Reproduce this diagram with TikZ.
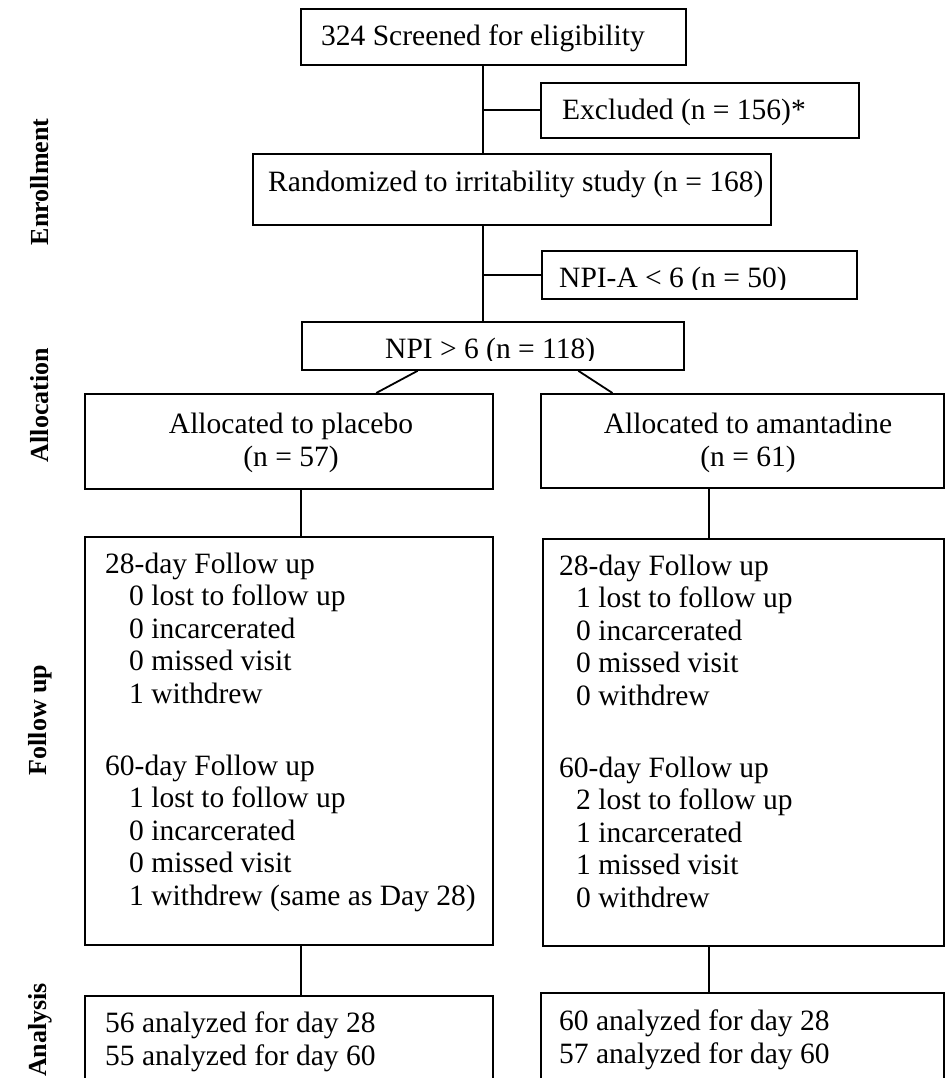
\documentclass[tikz,border=0pt]{standalone}
\usepackage{fontspec}
\setmainfont{Liberation Serif}
\usetikzlibrary{calc}
\tikzset{
  box/.style={draw, line width=1.8pt, rectangle, inner sep=0pt, anchor=north west},
  txt/.style={inner sep=0pt, anchor=base west, font=\fontsize{29.5}{33}\selectfont},
  ctxt/.style={inner sep=0pt, anchor=base, font=\fontsize{29.5}{33}\selectfont},
  phase/.style={inner sep=0pt, anchor=center, rotate=90, font=\fontsize{26}{30}\selectfont\bfseries},
  conn/.style={line width=1.8pt},
}
\begin{document}
\begin{tikzpicture}[x=1pt, y=-1pt]
\useasboundingbox (0,0) rectangle (945,1078);
\clip (0,0) rectangle (945,1078);
\fill[white] (0,0) rectangle (945,1078);

% phase labels
\node[phase] (lenr) at (40,182) {Enrollment};
\node[phase] (lall) at (40,405) {Allocation};
\node[phase] (lfol) at (40,720) {Follow up};
\node[phase] (lana) at (40,1030) {Analysis};

% boxes
\node[box, minimum width=385pt, minimum height=56pt] (screen) at (300,8) {};
\node[box, minimum width=318pt, minimum height=55pt] (excl) at (540,82) {};
\node[box, minimum width=518pt, minimum height=71pt] (rand) at (252,153) {};
\node[box, minimum width=315pt, minimum height=48pt] (npia) at (541,250) {};
\node[box, minimum width=382pt, minimum height=48pt] (npi6) at (301,321) {};
\node[box, minimum width=408pt, minimum height=95pt] (palloc) at (84,393) {};
\node[box, minimum width=403pt, minimum height=94pt] (aalloc) at (540,393) {};
\node[box, minimum width=408pt, minimum height=408pt] (pfu) at (84,536) {};
\node[box, minimum width=401pt, minimum height=407pt] (afu) at (542,538) {};
\node[box, minimum width=408pt, minimum height=120pt] (pan) at (84,995) {};
\node[box, minimum width=403pt, minimum height=120pt] (aan) at (540,992) {};

% texts
\node[txt] (tscreen) at (321,46) {324 Screened for eligibility};
\node[txt] (texcl) at (562,120) {Excluded (n = 156)*};
\node[txt] (trand) at (268,192) {Randomized to irritability study (n = 168)};
\begin{scope}
\clip (541,250) rectangle (856,289);
\node[txt] (tnpia) at (559,287) {NPI-A < 6 (n = 50)};
\end{scope}
\begin{scope}
\clip (301,321) rectangle (683,360);
\node[txt] (tnpi6) at (385,358) {NPI > 6 (n = 118)};
\end{scope}
\node[ctxt] (tpa1) at (291,433) {Allocated to placebo};
\node[ctxt] (tpa2) at (291,466) {(n = 57)};
\node[ctxt] (taa1) at (748,433) {Allocated to amantadine};
\node[ctxt] (taa2) at (748,466) {(n = 61)};

% placebo follow up
\node[txt] (pf1) at (105,573) {28-day Follow up};
\node[txt] (pf2) at (129,605.5) {0 lost to follow up};
\node[txt] (pf3) at (129,638) {0 incarcerated};
\node[txt] (pf4) at (129,670.5) {0 missed visit};
\node[txt] (pf5) at (129,703) {1 withdrew};
\node[txt] (pf6) at (105,775) {60-day Follow up};
\node[txt] (pf7) at (129,807.5) {1 lost to follow up};
\node[txt] (pf8) at (129,840) {0 incarcerated};
\node[txt] (pf9) at (129,872.5) {0 missed visit};
\node[txt] (pf10) at (129,905) {1 withdrew (same as Day 28)};

% amantadine follow up
\node[txt] (af1) at (559,575) {28-day Follow up};
\node[txt] (af2) at (576,607.5) {1 lost to follow up};
\node[txt] (af3) at (576,640) {0 incarcerated};
\node[txt] (af4) at (576,672.5) {0 missed visit};
\node[txt] (af5) at (576,705) {0 withdrew};
\node[txt] (af6) at (559,777) {60-day Follow up};
\node[txt] (af7) at (576,809.5) {2 lost to follow up};
\node[txt] (af8) at (576,842) {1 incarcerated};
\node[txt] (af9) at (576,874.5) {1 missed visit};
\node[txt] (af10) at (576,907) {0 withdrew};

% analysis
\node[txt] (pa1) at (105,1032) {56 analyzed for day 28};
\node[txt] (pa2) at (105,1065) {55 analyzed for day 60};
\node[txt] (aa1) at (559,1030) {60 analyzed for day 28};
\node[txt] (aa2) at (559,1063) {57 analyzed for day 60};

% connectors
\coordinate (sp) at (483,0);
\coordinate (pl) at (301,0);
\coordinate (al) at (709,0);
\draw[conn] (screen.south -| sp) -- (rand.north -| sp);
\draw[conn] (excl.west -| sp) -- (excl.west);
\draw[conn] (rand.south -| sp) -- (npi6.north -| sp);
\draw[conn] (npia.west -| sp) -- (npia.west);
\draw[conn] ($(npi6.south west)!0.304!(npi6.south east)$) -- ($(palloc.north west)!0.713!(palloc.north east)$);
\draw[conn] ($(npi6.south west)!0.7225!(npi6.south east)$) -- ($(aalloc.north west)!0.179!(aalloc.north east)$);
\draw[conn] (palloc.south -| pl) -- (pfu.north -| pl);
\draw[conn] (aalloc.south -| al) -- (afu.north -| al);
\draw[conn] (pfu.south -| pl) -- (pan.north -| pl);
\draw[conn] (afu.south -| al) -- (aan.north -| al);
\end{tikzpicture}
\end{document}
